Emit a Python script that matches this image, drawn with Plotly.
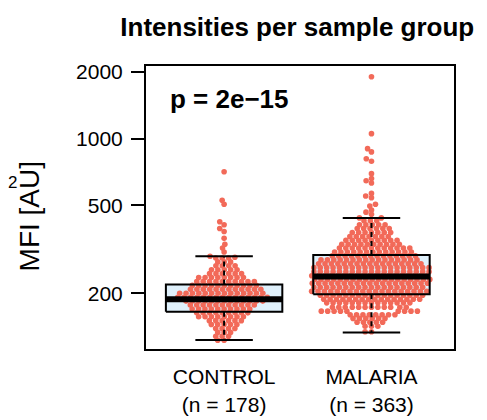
import numpy as np
import plotly.graph_objects as go

control_levels = [708, 526, 505, 421, 408, 392, 380, 354, 333, 320, 307, 294, 291,
                  288.6, 277.1, 266.0, 255.4, 245.2, 235.4, 226.0, 217.0, 208.3, 200.0,
                  192.0, 184.3, 177.0, 169.9, 163.1, 156.6, 150.4, 144.4, 138.6, 133.1,
                  127.8, 122.7]
control_counts = [1, 1, 1, 1, 1, 1, 1, 1, 1, 1, 1, 1, 1,
                  3, 3, 4, 5, 6, 8, 10, 11, 12, 14,
                  15, 13, 11, 10, 9, 8, 6, 5, 4, 3,
                  3, 2]

malaria_levels = [1900, 1052, 900, 870, 810, 790, 694, 660, 645, 630, 565, 550, 540,
                  505, 495, 475, 465, 455,
                  438, 425, 408, 392, 376, 361, 347, 333, 320, 307, 295, 283, 272, 261,
                  250, 240, 231, 222, 213, 204, 196, 188, 181, 173, 166, 160, 154, 148,
                  142, 134]
malaria_counts = [1, 1, 1, 1, 1, 1, 1, 1, 1, 1, 1, 1, 1,
                  1, 1, 1, 1, 1,
                  2, 3, 5, 6, 7, 7, 9, 10, 12, 13, 14, 16, 17, 19,
                  19, 19, 19, 19, 18, 19, 17, 16, 14, 12, 9, 8, 6, 5,
                  3, 2]

groups = ["CONTROL", "MALARIA"]
# box statistics: lower whisker, Q1, median, Q3, upper whisker
box_low = [123, 133]
box_q1 = [165, 198]
box_med = [188, 238]
box_q3 = [219, 298]
box_high = [294, 438]

p_text = "p = 2e\u221215"

PX_X = 147.4   # pixels per x unit
PX_DEC = 226   # pixels per decade on y
SX, SY = 6.4, 4.2   # spacing of swarm points (px)


def swarm(vals):
    ypx = np.log10(vals) * PX_DEC
    xs = np.zeros(len(vals))
    px, py = [], []
    for i in np.argsort(ypx, kind="stable"):
        y = ypx[i]
        near = [(a, b) for a, b in zip(px, py) if abs(b - y) < SY]
        cand = [0.0]
        for a, b in near:
            dx = SX * np.sqrt(1 - ((b - y) / SY) ** 2)
            cand += [a + dx, a - dx]
        cand.sort(key=lambda c: (round(abs(c), 6), c))
        for c in cand:
            if all(((c - a) / SX) ** 2 + ((y - b) / SY) ** 2 >= 1 - 1e-6 for a, b in near):
                xs[i] = c
                break
        px.append(xs[i])
        py.append(y)
    return xs / PX_X


data = [np.repeat(control_levels, control_counts), np.repeat(malaria_levels, malaria_counts)]

fig = go.Figure()
hw, cw = 0.395, 0.195

for k in range(2):
    x0 = k + 1
    fig.add_trace(go.Scatter(x=[x0 - hw, x0 + hw, x0 + hw, x0 - hw, x0 - hw],
                             y=[box_q1[k], box_q1[k], box_q3[k], box_q3[k], box_q1[k]],
                             fill="toself", fillcolor="#DFF0FB", mode="lines",
                             line=dict(width=0), showlegend=False, hoverinfo="skip"))

for k in range(2):
    v = data[k]
    fig.add_trace(go.Scatter(x=(k + 1) + swarm(v), y=v, mode="markers",
                             marker=dict(size=5.6, color="#F26A59"),
                             showlegend=False))

for k in range(2):
    x0 = k + 1
    fig.add_trace(go.Scatter(x=[x0 - hw, x0 + hw, x0 + hw, x0 - hw, x0 - hw],
                             y=[box_q1[k], box_q1[k], box_q3[k], box_q3[k], box_q1[k]],
                             mode="lines", line=dict(color="black", width=2), showlegend=False))
    fig.add_trace(go.Scatter(x=[x0 - hw, x0 + hw], y=[box_med[k]] * 2, mode="lines",
                             line=dict(color="black", width=6), showlegend=False))
    for a, b in [(box_q3[k], box_high[k]), (box_q1[k], box_low[k])]:
        fig.add_trace(go.Scatter(x=[x0, x0], y=[a, b], mode="lines",
                                 line=dict(color="black", width=2, dash="5px,4px"),
                                 showlegend=False))
        fig.add_trace(go.Scatter(x=[x0 - cw, x0 + cw], y=[b, b], mode="lines",
                                 line=dict(color="black", width=2), showlegend=False))

ticktext = [f"{g}<br>(n = {sum(c)})" for g, c in zip(groups, [control_counts, malaria_counts])]

font = "Liberation Sans, Arial, sans-serif"
fig.update_layout(
    width=487, height=420,
    margin=dict(l=138, r=41, t=58, b=73),
    paper_bgcolor="white", plot_bgcolor="white",
    font=dict(family=font, color="black", size=20),
    title=dict(text="<b>Intensities per sample group</b>", x=0.594, xanchor="center",
               y=0.955, yanchor="middle", font=dict(size=26)),
    xaxis=dict(range=[0.47, 2.56], tickvals=[1, 2], ticktext=ticktext, ticks="",
               showline=True, mirror=True, linecolor="black", linewidth=2,
               showgrid=False, zeroline=False, tickfont=dict(size=21),
               ticklabelstandoff=8),
    yaxis=dict(type="log", range=[np.log10(112), np.log10(2126)],
               tickvals=[200, 500, 1000, 2000], ticktext=["200", "500", "1000", "2000"],
               ticks="outside", ticklen=13, tickwidth=2, tickcolor="black",
               showline=True, mirror=True, linecolor="black", linewidth=2,
               showgrid=False, zeroline=False, tickfont=dict(size=21),
               ticklabelstandoff=4),
    annotations=[
        dict(text=f"<b>{p_text}</b>", xref="paper", yref="paper", x=0.071, y=0.882,
             xanchor="left", yanchor="middle", showarrow=False, font=dict(size=26)),
        dict(text="MFI [AU]", xref="paper", yref="paper", x=-0.378, y=0.467,
             xanchor="center", yanchor="middle",
             textangle=-90, showarrow=False, font=dict(size=28)),
        dict(text="2", xref="paper", yref="paper", x=-0.434, y=0.588,
             xanchor="center", yanchor="middle", showarrow=False, font=dict(size=17)),
    ],
)

fig.write_html("out.html")
